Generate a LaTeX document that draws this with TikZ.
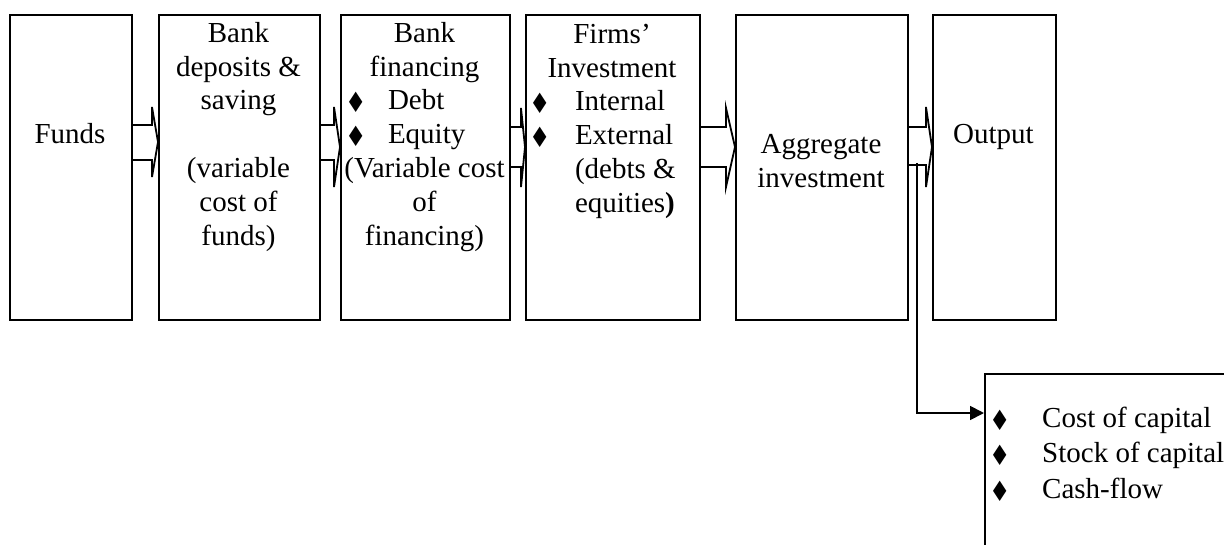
\documentclass[tikz,border=0pt]{standalone}
\usepackage{fontspec}
\setmainfont{Liberation Serif}
\newfontfamily\symfont{DejaVu Sans}
\usetikzlibrary{arrows.meta}
\newcommand\dia{\raisebox{-3pt}{\scalebox{0.85}[1]{\symfont\fontsize{28}{28}\selectfont ♦}}}
\newcommand\fs{\rule{0pt}{24pt}}
% #1 box width, #2 bullet offset, #3 text offset, #4 text
\newcommand\bl[4]{\makebox[#1pt][l]{\hspace*{#2pt}\makebox[0pt][l]{\dia}\hspace*{\dimexpr#3pt-#2pt\relax}#4}}
\newcommand\ind[3]{\makebox[#1pt][l]{\hspace*{#2pt}#3}}
\tikzset{
  box/.style={draw, line width=1.8pt, inner sep=0pt, anchor=north west, minimum height=305pt},
  txt/.style={align=center, inner sep=0pt, anchor=north, font=\fontsize{29}{33.8}\selectfont},
  blk/.style={draw, line width=1.8pt, line join=miter},
  conn/.style={draw, line width=1.8pt, -{Triangle[length=14pt,width=14pt]}},
}
% #1 from, #2 to, #3 head base x, #4 shaft top, #5 shaft bottom, #6 head top, #7 head bottom, #8 tip y
\newcommand\blockarr[8]{%
  \draw[blk] (#1.east |- 0,#4) -- (#3,#4) -- (#3,#6) -- (#2.west |- 0,#8) -- (#3,#7) -- (#3,#5) -- (#1.east |- 0,#5);}
\begin{document}
\begin{tikzpicture}[x=1pt,y=-1pt]
\useasboundingbox (0,0) rectangle (1224,544);
\clip (0,0) rectangle (1224,544);
\fill[white] (0,0) rectangle (1224,544);

\node[box, minimum width=122pt] (b1) at (9,14) {};
\node[box, minimum width=161pt] (b2) at (158,14) {};
\node[box, minimum width=169pt] (b3) at (340,14) {};
\node[box, minimum width=174pt] (b4) at (525,14) {};
\node[box, minimum width=172pt] (b5) at (735,14) {};
\node[box, minimum width=123pt] (b6) at (932,14) {};
\node[box, minimum width=300pt, minimum height=250pt] (b7) at (984,373) {};

\node[txt] (t1) at (70,119) {\fs Funds};
\node[txt] (t2) at (238.5,18) {\fs Bank\\deposits \&\\saving\\[33.8pt](variable\\cost of\\funds)};
\node[txt] (t3) at (424.5,18) {\fs Bank\\financing\\\bl{169}{5}{48}{Debt}\\\bl{169}{5}{48}{Equity}\\(Variable cost\\of\\financing)};
\node[txt] (t4) at (612,19) {\fs Firms’\\Investment\\\bl{174}{4}{50}{Internal}\\\bl{174}{4}{50}{External}\\\ind{174}{50}{(debts \&}\\\ind{174}{50}{equities{\bfseries )}}};
\node[txt] (t5) at (821,129) {\fs Aggregate\\investment};
\node[txt] (t6) at (993.5,119) {\fs Output};
\node[txt, align=left, anchor=north west, font=\fontsize{29}{35.5}\selectfont] (t7) at (984,406.7)
  {\bl{240}{5}{58}{Cost of capital}\\\bl{240}{5}{58}{Stock of capital}\\\bl{240}{5}{58}{Cash-flow}};

\blockarr{b1}{b2}{152}{125}{160}{107}{177}{142}
\blockarr{b2}{b3}{334}{125}{160}{107}{187}{147}
\blockarr{b3}{b4}{521}{127}{167}{108}{187}{147}
\blockarr{b4}{b5}{726}{127}{167}{108}{187}{147}
\blockarr{b5}{b6}{926}{127}{165}{107}{187}{147}

\coordinate (c0) at (917,163);
\draw[conn] (c0) |- ([yshift=-40pt]b7.north west);
\end{tikzpicture}
\end{document}
